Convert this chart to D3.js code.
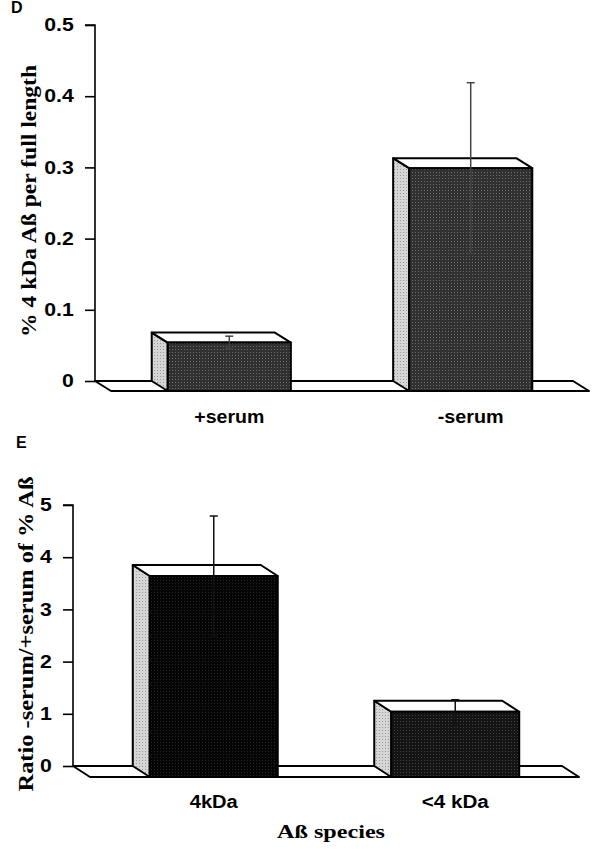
<!DOCTYPE html>
<html lang="en">
<head>
<meta charset="UTF-8">
<title>Abeta bars</title>
<script src="https://d3js.org/d3.v7.min.js"></script>
<style>
  body { margin: 0; background: #fff; }
  svg { display: block; }
</style>
</head>
<body>
<div id="container"></div>
<script>
// panel D
const catsD = ["+serum", "-serum"];
const valsD = [0.068, 0.313];
const errsD = [0.009, 0.12];
const ticksD = [0, 0.1, 0.2, 0.3, 0.4, 0.5];
const tickLabelsD = ["0", "0.1", "0.2", "0.3", "0.4", "0.5"];

// panel E
const catsE = ["4kDa", "<4 kDa"];
const valsE = [3.85, 1.25];
const errsE = [1.15, 0.23];
const ticksE = [0, 1, 2, 3, 4, 5];
const tickLabelsE = ["0", "1", "2", "3", "4", "5"];

const W = 594, H = 849;
const svg = d3.select("#container").append("svg").attr("width", W).attr("height", H);

// halftone-ish fills
const defs = svg.append("defs");
function dots(id, base, dot) {
  const p = defs.append("pattern").attr("id", id)
    .attr("width", 3).attr("height", 3).attr("patternUnits", "userSpaceOnUse");
  p.append("rect").attr("width", 3).attr("height", 3).attr("fill", base);
  p.append("rect").attr("x", 1).attr("y", 1).attr("width", 1).attr("height", 1).attr("fill", dot);
}
dots("sideD", "#d6d6d6", "#9a9a9a");
dots("frontD", "#303030", "#707070");
dots("frontE1", "#050505", "#262626");
dots("frontE2", "#141414", "#444");

function panel(opt) {
  const g = svg.append("g");
  const y = d3.scaleLinear().domain(opt.domain).range(opt.yRange);
  const x = d3.scaleBand().domain(opt.cats).range(opt.xRange)
    .paddingInner(opt.padIn).paddingOuter(opt.padOut);
  const dx = opt.depth[0], dy = opt.depth[1];
  const y0 = y(0), x0 = opt.xRange[0], x1 = opt.xRange[1];

  // floor
  g.append("path")
    .attr("d", `M${x0},${y0}L${x1},${y0}L${x1 + dx},${y0 + dy}L${x0 + dx},${y0 + dy}Z`)
    .attr("fill", "#fff").attr("stroke", "#000").attr("stroke-width", 2)
    .attr("stroke-linejoin", "round");

  // y axis
  const ax = g.append("g").attr("transform", `translate(${x0},0)`)
    .call(d3.axisLeft(y).tickValues(opt.ticks).tickSize(10).tickPadding(8)
      .tickFormat((d, i) => opt.tickLabels[i]));
  ax.select(".domain").attr("d", `M-10,${y(opt.domain[1])}H0V${y0}`)
    .attr("stroke-width", 1.6);
  ax.selectAll(".tick line").attr("stroke-width", 1.6);
  ax.selectAll(".tick text")
    .attr("font-family", "Liberation Sans, Arial, sans-serif")
    .attr("font-weight", "bold").attr("font-size", 18).attr("fill", "#000")
    .attr("transform", "scale(1.18,1)");

  // bars
  const bw = x.bandwidth();
  opt.cats.forEach((c, i) => {
    const bx = x(c), yv = y(opt.vals[i]);
    const b = g.append("g").attr("stroke", "#000").attr("stroke-width", 2)
      .attr("stroke-linejoin", "round");
    b.append("path")
      .attr("d", `M${bx},${yv}L${bx + dx},${yv + dy}L${bx + dx},${y0 + dy}L${bx},${y0}Z`)
      .attr("fill", "url(#sideD)");
    b.append("path")
      .attr("d", `M${bx},${yv}L${bx + bw},${yv}L${bx + bw + dx},${yv + dy}L${bx + dx},${yv + dy}Z`)
      .attr("fill", "#fff");
    b.append("rect")
      .attr("x", bx + dx).attr("y", yv + dy)
      .attr("width", bw).attr("height", y0 - yv)
      .attr("fill", opt.fills[i]);

    // error bar, drawn on the front plane
    const cx = bx + dx + bw / 2;
    const hi = y(opt.vals[i] + opt.errs[i]) + dy;
    const lo = y(opt.vals[i] - opt.errs[i]) + dy;
    const e = g.append("g").attr("stroke", opt.errColor).attr("stroke-width", 1.5);
    e.append("line").attr("x1", cx).attr("x2", cx).attr("y1", hi).attr("y2", lo);
    e.append("line").attr("x1", cx - 4).attr("x2", cx + 4).attr("y1", hi).attr("y2", hi);
    e.append("line").attr("x1", cx - 4).attr("x2", cx + 4).attr("y1", lo).attr("y2", lo);

    g.append("text")
      .attr("x", cx).attr("y", y0 + opt.labelGap)
      .attr("text-anchor", "middle")
      .attr("font-family", "Liberation Sans, Arial, sans-serif")
      .attr("font-weight", "bold").attr("font-size", 18)
      .attr("textLength", opt.labelLen[i]).attr("lengthAdjust", "spacingAndGlyphs")
      .text(c);
  });

  // y title
  g.append("text")
    .attr("transform", `translate(${opt.titleX},${opt.titleY}) rotate(-90)`)
    .attr("text-anchor", "middle")
    .attr("font-family", "Liberation Serif, Times New Roman, serif")
    .attr("font-weight", "bold").attr("font-size", 21)
    .attr("textLength", opt.titleLen).attr("lengthAdjust", "spacingAndGlyphs")
    .text(opt.title);

  // panel letter
  g.append("text").attr("x", opt.letterX).attr("y", opt.letterY)
    .attr("font-family", "Liberation Sans, Arial, sans-serif")
    .attr("font-weight", "bold").attr("font-size", 16)
    .text(opt.letter);
}

panel({
  cats: catsD, vals: valsD, errs: errsD, ticks: ticksD, tickLabels: tickLabelsD,
  domain: [0, 0.5], yRange: [381, 25], xRange: [95, 573],
  padIn: 0.49, padOut: 0.235, depth: [16, 10],
  fills: ["url(#frontD)", "url(#frontD)"], errColor: "#444",
  labelGap: 42, labelLen: [70, 66],
  title: "% 4 kDa Aß per full length", titleX: 36, titleY: 201, titleLen: 272,
  letter: "D", letterX: 11, letterY: 13
});

panel({
  cats: catsE, vals: valsE, errs: errsE, ticks: ticksE, tickLabels: tickLabelsE,
  domain: [0, 5], yRange: [766, 505], xRange: [73, 562],
  padIn: 0.47, padOut: 0.2475, depth: [17, 11],
  fills: ["url(#frontE1)", "url(#frontE2)"], errColor: "#111",
  labelGap: 42, labelLen: [48, 67],
  title: "Ratio -serum/+serum of % Aß", titleX: 33, titleY: 634, titleLen: 315,
  letter: "E", letterX: 16, letterY: 448
});

// x title for E
svg.append("text")
  .attr("x", 331).attr("y", 838)
  .attr("text-anchor", "middle")
  .attr("font-family", "Liberation Serif, Times New Roman, serif")
  .attr("font-weight", "bold").attr("font-size", 18)
  .attr("textLength", 108).attr("lengthAdjust", "spacingAndGlyphs")
  .text("Aß species");
</script>
</body>
</html>
